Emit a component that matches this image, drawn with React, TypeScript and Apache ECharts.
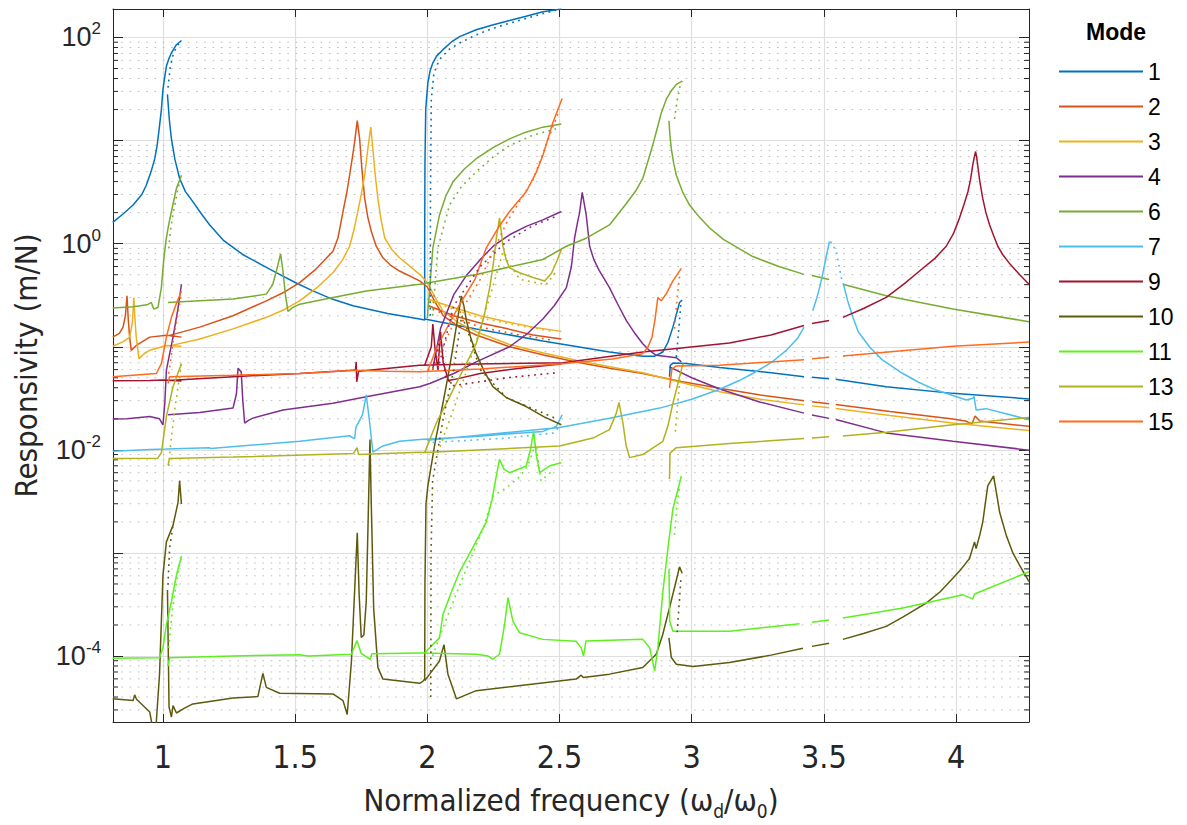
import React, { useEffect, useRef } from "react";
import * as echarts from "echarts";

type Seg = number[][];

// ---- axes ----
const X_MIN = 0.811;
const X_MAX = 4.276;
const Y_MIN = 2.29e-5;
const Y_MAX = 189;
const xTickLabels = [1, 1.5, 2, 2.5, 3, 3.5, 4];
const yLabelExponents = [2, 0, -2, -4];

// ---- legend ----
const modeNames = ["1", "2", "3", "4", "6", "7", "9", "10", "11", "13", "15"];
const modeColors = ["#0072BD", "#D95319", "#EDB120", "#7E2F8E", "#77AC30", "#4DBEEE", "#A2142F", "#5E5A0C", "#5CF01E", "#B2B21E", "#FF6A1F"];

// ---- mode 1 ----
const mode1Solid: Seg[] = [
  [[0.81, 1.61], [0.85, 1.95], [0.887, 2.37], [0.92, 3.0], [0.937, 3.69], [0.955, 5.0], [0.969, 6.67], [0.978, 9.0], [0.987, 13.9], [0.994, 20], [1.0, 31.4], [1.007, 42], [1.013, 52.6], [1.022, 62], [1.032, 70.8], [1.051, 85.1], [1.07, 93.5]],
  [[1.017, 28.1], [1.024, 16], [1.032, 10.4], [1.045, 6.6], [1.063, 4.29], [1.085, 3.2], [1.113, 2.56], [1.145, 1.95], [1.177, 1.52], [1.23, 1.07], [1.3, 0.79], [1.37, 0.63], [1.441, 0.504], [1.5, 0.42], [1.567, 0.348], [1.64, 0.29], [1.719, 0.25], [1.85, 0.21], [1.971, 0.186], [1.99, 0.182], [1.99, 0.9], [1.991, 5.8], [1.994, 20.2], [2.002, 36.3], [2.01, 47], [2.021, 56.8], [2.035, 66], [2.059, 76.2], [2.09, 90], [2.122, 102], [2.185, 119], [2.25, 133], [2.311, 146], [2.37, 160], [2.437, 178], [2.507, 189]],
  [[1.99, 0.186], [2.185, 0.149], [2.437, 0.114], [2.689, 0.089], [2.815, 0.081], [2.86, 0.081], [2.891, 0.089], [2.91, 0.11], [2.929, 0.155], [2.945, 0.22], [2.954, 0.269], [2.964, 0.283]],
  [[2.916, 0.0512], [2.919, 0.066], [2.93, 0.0697], [2.98, 0.0687], [3.106, 0.0628], [3.3, 0.056], [3.425, 0.0512]],
  [[3.455, 0.0505], [3.52, 0.049]],
  [[3.545, 0.0485], [3.736, 0.041], [3.988, 0.0353], [4.276, 0.0312]],
];
const mode1Dotted: Seg[] = [
  [[1.019, 32.6], [1.028, 52.6], [1.04, 70.8], [1.057, 85.1], [1.07, 93.5]],
  [[2.011, 0.2], [2.012, 3], [2.015, 25.1], [2.025, 45], [2.046, 61.1], [2.08, 76], [2.122, 88.3], [2.185, 106], [2.248, 123], [2.374, 153], [2.487, 185]],
  [[2.942, 0.0796], [2.951, 0.145], [2.96, 0.282]],
];

// ---- mode 2 ----
const mode2Solid: Seg[] = [
  [[0.81, 0.124], [0.835, 0.135], [0.849, 0.155], [0.858, 0.2], [0.864, 0.312], [0.869, 0.18], [0.874, 0.124], [0.88, 0.0923], [0.899, 0.103], [0.95, 0.124], [1.013, 0.129], [1.07, 0.124]],
  [[1.025, 0.129], [1.139, 0.155], [1.265, 0.2], [1.391, 0.279], [1.46, 0.34], [1.517, 0.419], [1.58, 0.57], [1.643, 0.845], [1.662, 1.135], [1.681, 2.05], [1.695, 3.1], [1.706, 4.61], [1.717, 7.0], [1.725, 9.66], [1.735, 15.6], [1.744, 10.4], [1.752, 5.5], [1.763, 2.75], [1.775, 1.8], [1.788, 1.32], [1.807, 0.94], [1.832, 0.73], [1.86, 0.62], [1.895, 0.543], [1.971, 0.435], [2.0, 0.38], [2.03, 0.27], [2.06, 0.2], [2.12, 0.155], [2.185, 0.13], [2.311, 0.1], [2.44, 0.083], [2.563, 0.071], [2.69, 0.062], [2.815, 0.055], [2.96, 0.046], [3.106, 0.0395], [3.26, 0.034], [3.425, 0.0299]],
  [[3.455, 0.0293], [3.52, 0.028]],
  [[3.545, 0.0276], [3.75, 0.0235], [3.988, 0.0199], [4.04, 0.0189], [4.06, 0.0178], [4.072, 0.0213], [4.09, 0.019], [4.276, 0.0169]],
  [[2.005, 0.25], [2.1, 0.2], [2.2, 0.17], [2.3, 0.15], [2.4, 0.13], [2.507, 0.119]],
];
const mode2Dotted: Seg[] = [
  [[2.02, 0.23], [2.2, 0.155], [2.35, 0.13], [2.48, 0.115]],
];

// ---- mode 3 ----
const mode3Solid: Seg[] = [
  [[0.81, 0.101], [0.85, 0.112], [0.874, 0.124], [0.884, 0.17], [0.89, 0.3], [0.895, 0.17], [0.899, 0.124], [0.909, 0.0767], [0.93, 0.086], [0.95, 0.0923], [1.013, 0.103], [1.07, 0.101]],
  [[1.025, 0.102], [1.139, 0.119], [1.265, 0.149], [1.391, 0.193], [1.46, 0.23], [1.517, 0.279], [1.58, 0.37], [1.643, 0.522], [1.68, 0.7], [1.706, 0.944], [1.722, 1.35], [1.737, 2.05], [1.75, 3.0], [1.763, 4.61], [1.775, 8.3], [1.786, 13.5], [1.794, 8.3], [1.803, 4.6], [1.813, 2.75], [1.825, 1.7], [1.839, 1.135], [1.865, 0.88], [1.895, 0.73], [1.971, 0.504], [2.0, 0.42], [2.03, 0.3], [2.06, 0.22], [2.12, 0.17], [2.185, 0.14], [2.311, 0.105], [2.44, 0.087], [2.563, 0.074], [2.69, 0.064], [2.815, 0.056], [2.96, 0.045], [3.106, 0.0366], [3.26, 0.031], [3.425, 0.0273]],
  [[3.455, 0.0267], [3.52, 0.0256]],
  [[3.545, 0.0252], [3.75, 0.0215], [3.988, 0.0182], [4.276, 0.0154]],
  [[2.0, 0.29], [2.1, 0.24], [2.2, 0.2], [2.3, 0.175], [2.4, 0.155], [2.507, 0.141]],
];
const mode3Dotted: Seg[] = [
  [[2.02, 0.27], [2.2, 0.19], [2.35, 0.16], [2.48, 0.14]],
];

// ---- mode 4 ----
const mode4Solid: Seg[] = [
  [[0.81, 0.0199], [0.864, 0.02], [0.95, 0.0211], [0.987, 0.02], [1.0, 0.0175], [1.007, 0.0283], [1.013, 0.0593], [1.025, 0.085], [1.038, 0.124], [1.055, 0.22], [1.07, 0.404]],
  [[1.019, 0.0219], [1.139, 0.023], [1.265, 0.0254], [1.278, 0.035], [1.284, 0.0617], [1.296, 0.0571], [1.302, 0.03], [1.309, 0.0182], [1.322, 0.0192], [1.34, 0.0203], [1.454, 0.0244], [1.643, 0.0283], [1.769, 0.0328], [1.971, 0.041], [2.009, 0.044], [2.1, 0.055], [2.185, 0.0713], [2.311, 0.1], [2.38, 0.135], [2.437, 0.186], [2.48, 0.25], [2.526, 0.375], [2.545, 0.6], [2.557, 1.135], [2.568, 1.6], [2.576, 2.0], [2.586, 3.14], [2.594, 2.4], [2.601, 1.9], [2.614, 0.944], [2.63, 0.7], [2.65, 0.55], [2.689, 0.375], [2.72, 0.26], [2.753, 0.179], [2.785, 0.135], [2.815, 0.107], [2.84, 0.092], [2.866, 0.0826], [2.942, 0.0783], [2.961, 0.0713]],
  [[2.02, 0.06], [2.05, 0.15], [2.1, 0.32], [2.15, 0.5], [2.2, 0.7], [2.25, 0.95], [2.311, 1.22], [2.374, 1.47], [2.437, 1.7], [2.507, 2.05]],
  [[2.916, 0.0638], [3.0, 0.05], [3.106, 0.0389], [3.26, 0.029], [3.425, 0.0227]],
  [[3.455, 0.0218], [3.52, 0.0202]],
  [[3.545, 0.0197], [3.736, 0.0146], [3.988, 0.0121], [4.276, 0.00993]],
];
const mode4Dotted: Seg[] = [
  [[2.04, 0.06], [2.1, 0.25], [2.2, 0.6], [2.3, 1.05], [2.4, 1.5], [2.49, 1.85]],
];

// ---- mode 6 ----
const mode6Solid: Seg[] = [
  [[0.81, 0.237], [0.887, 0.244], [0.94, 0.255], [0.956, 0.269], [0.965, 0.232], [0.981, 0.24], [0.994, 0.375], [1.003, 0.7], [1.012, 1.1], [1.022, 1.55], [1.032, 2.05], [1.051, 3.44], [1.07, 4.61]],
  [[1.019, 0.269], [1.139, 0.279], [1.265, 0.29], [1.391, 0.324], [1.415, 0.4], [1.429, 0.543], [1.445, 0.796], [1.454, 0.543], [1.463, 0.32], [1.473, 0.22], [1.49, 0.24], [1.517, 0.259], [1.643, 0.301], [1.769, 0.348], [1.971, 0.404], [2.185, 0.503], [2.437, 0.702], [2.526, 0.944], [2.601, 1.13], [2.689, 1.52], [2.75, 2.4], [2.79, 3.3], [2.815, 4.29], [2.84, 7.0], [2.855, 9.5], [2.866, 12.1], [2.885, 18.5], [2.904, 25.2], [2.925, 31], [2.942, 35.1], [2.964, 37.8]],
  [[2.914, 15.6], [2.918, 11], [2.923, 8.3], [2.932, 6.0], [2.942, 4.61], [2.965, 3.2], [2.992, 2.37], [3.03, 1.8], [3.068, 1.42], [3.12, 1.1], [3.231, 0.75], [3.33, 0.6], [3.425, 0.504]],
  [[3.455, 0.49], [3.52, 0.45]],
  [[3.572, 0.404], [3.736, 0.312], [3.988, 0.232], [4.276, 0.175]],
  [[2.0, 0.19], [2.01, 0.4], [2.021, 0.912], [2.046, 1.9], [2.07, 2.9], [2.097, 3.98], [2.14, 5.3], [2.185, 6.67], [2.25, 8.6], [2.311, 10.4], [2.37, 12], [2.437, 13.5], [2.507, 14.5]],
];
const mode6Dotted: Seg[] = [
  [[1.022, 0.9], [1.028, 1.32], [1.04, 2.05], [1.057, 3.44], [1.07, 4.61]],
  [[2.02, 0.2], [2.04, 0.912], [2.084, 2.37], [2.13, 3.6], [2.185, 4.97], [2.25, 7.0], [2.311, 8.96], [2.4, 11.3], [2.487, 13]],
  [[2.935, 16.2], [2.946, 25.2], [2.955, 33], [2.964, 37.8]],
];

// ---- mode 7 ----
const mode7Solid: Seg[] = [
  [[0.81, 0.0097], [0.95, 0.0101], [1.013, 0.0102], [1.176, 0.0105], [1.18, 0.0103], [1.517, 0.0121], [1.706, 0.0137], [1.725, 0.0128], [1.73, 0.0165], [1.755, 0.022], [1.769, 0.0341], [1.782, 0.0182], [1.794, 0.0095], [1.832, 0.0109], [1.895, 0.0121], [1.971, 0.0126], [2.185, 0.0135], [2.437, 0.0151], [2.488, 0.0169], [2.51, 0.0219]],
  [[2.0, 0.0124], [2.5, 0.0165], [2.689, 0.0203], [2.879, 0.0254], [3.0, 0.031], [3.106, 0.0387], [3.18, 0.047], [3.231, 0.055], [3.3, 0.07], [3.358, 0.0923], [3.4, 0.12], [3.425, 0.155]],
  [[3.458, 0.224], [3.472, 0.29], [3.484, 0.375], [3.495, 0.5], [3.503, 0.628], [3.512, 0.82], [3.521, 1.05]],
  [[3.574, 0.404], [3.59, 0.28], [3.61, 0.193], [3.63, 0.14], [3.673, 0.0993], [3.72, 0.075], [3.799, 0.055], [3.86, 0.045], [3.925, 0.038], [4.039, 0.0305], [4.063, 0.0316], [4.068, 0.033], [4.076, 0.0244], [4.114, 0.0251], [4.276, 0.0196]],
];
const mode7Dotted: Seg[] = [
  [[3.525, 1.05], [3.547, 0.845], [3.566, 0.468], [3.574, 0.404]],
  [[2.02, 0.0118], [2.3, 0.013], [2.48, 0.0146], [2.5, 0.017]],
];

// ---- mode 9 ----
const mode9Solid: Seg[] = [
  [[0.81, 0.0468], [0.95, 0.047], [1.0, 0.0475], [1.07, 0.0465]],
  [[1.019, 0.047], [1.265, 0.0512], [1.517, 0.055], [1.719, 0.0593], [1.728, 0.0593], [1.731, 0.0713], [1.733, 0.0457], [1.74, 0.058], [1.971, 0.066], [2.185, 0.068], [2.513, 0.07], [2.815, 0.0889], [3.143, 0.109], [3.3, 0.13], [3.425, 0.161]],
  [[3.455, 0.168], [3.52, 0.18]],
  [[3.572, 0.193], [3.65, 0.235], [3.736, 0.301], [3.8, 0.4], [3.862, 0.543], [3.92, 0.72], [3.963, 0.944], [3.99, 1.25], [4.013, 1.77], [4.03, 2.4], [4.045, 3.19], [4.055, 4.2], [4.063, 5.75], [4.069, 6.9], [4.074, 7.83], [4.078, 6.9], [4.082, 5.75], [4.09, 4.0], [4.101, 2.75], [4.113, 2.0], [4.127, 1.52], [4.142, 1.2], [4.158, 0.944], [4.177, 0.78], [4.205, 0.63], [4.24, 0.503], [4.276, 0.404]],
  [[1.99, 0.066], [2.015, 0.1], [2.021, 0.166], [2.03, 0.09], [2.04, 0.06], [2.05, 0.14], [2.06, 0.07], [2.08, 0.047], [2.1, 0.048], [2.2, 0.055], [2.35, 0.062], [2.507, 0.068]],
];
const mode9Dotted: Seg[] = [
  [[2.02, 0.06], [2.05, 0.12], [2.07, 0.05], [2.1, 0.042], [2.3, 0.05], [2.49, 0.056]],
];

// ---- mode 10 ----
const mode10Solid: Seg[] = [
  [[0.81, 3.84e-5], [0.887, 3.7e-5], [0.893, 4.2e-5], [0.9, 3.8e-5], [0.95, 2.86e-5], [0.97, 1.5e-5], [0.987, 6.67e-5], [1.0, 6.1e-4], [1.013, 1.28e-3], [1.038, 1.85e-3], [1.057, 3.09e-3], [1.063, 5.0e-3], [1.07, 2.98e-3]],
  [[1.017, 4.37e-4], [1.023, 3.2e-5], [1.032, 2.56e-5], [1.038, 3.3e-5], [1.051, 2.8e-5], [1.08, 3.1e-5], [1.113, 3.43e-5], [1.265, 3.92e-5], [1.359, 4.04e-5], [1.378, 6.78e-5], [1.391, 4.97e-5], [1.441, 4.35e-5], [1.643, 4.29e-5], [1.681, 3.69e-5], [1.697, 2.71e-5], [1.713, 8.95e-5], [1.735, 1.57e-3], [1.742, 4e-4], [1.75, 1.51e-4], [1.76, 1.6e-4], [1.769, 3.38e-4], [1.776, 2e-3], [1.783, 0.0126], [1.788, 3e-3], [1.797, 2.9e-4], [1.813, 7.76e-5], [1.832, 5.97e-5], [1.971, 5.43e-5], [1.983, 5.68e-5], [1.99, 6e-5], [1.991, 5e-4], [1.995, 3e-3], [2.002, 4.47e-3], [2.03, 0.012], [2.059, 0.0283], [2.08, 0.055], [2.097, 0.0993], [2.115, 0.19], [2.129, 0.312], [2.138, 0.25], [2.148, 0.179], [2.165, 0.12], [2.185, 0.0857], [2.215, 0.058], [2.248, 0.041], [2.3, 0.032], [2.374, 0.0263], [2.44, 0.021], [2.507, 0.0175]],
  [[1.99, 5.75e-5], [2.009, 6.67e-5], [2.046, 8.95e-5], [2.063, 1.29e-4], [2.078, 6.67e-5], [2.11, 3.84e-5], [2.185, 4.61e-5], [2.563, 5.97e-5], [2.582, 6.52e-5], [2.59, 6.2e-5], [2.689, 6.67e-5], [2.815, 7.73e-5], [2.866, 1.04e-4], [2.89, 1.6e-4], [2.916, 2.92e-4], [2.94, 5.2e-4], [2.954, 7.33e-4], [2.964, 6.34e-4]],
  [[2.914, 1.5e-4], [2.923, 9.66e-5], [2.942, 8.32e-5], [3.005, 7.9e-5], [3.143, 8.65e-5], [3.3, 1.02e-4], [3.421, 1.19e-4]],
  [[3.455, 1.24e-4], [3.52, 1.33e-4]],
  [[3.572, 1.45e-4], [3.65, 1.65e-4], [3.736, 1.94e-4], [3.8, 2.4e-4], [3.887, 3.26e-4], [3.94, 4.2e-4], [3.988, 5.68e-4], [4.02, 7e-4], [4.051, 8.83e-4], [4.07, 1.28e-3], [4.076, 1.1e-3], [4.09, 1.5e-3], [4.101, 1.99e-3], [4.12, 4.48e-3], [4.142, 5.58e-3], [4.153, 3.8e-3], [4.165, 2.48e-3], [4.19, 1.48e-3], [4.215, 1.0e-3], [4.24, 7.62e-4], [4.276, 5.26e-4]],
];
const mode10Dotted: Seg[] = [
  [[1.019, 4.9e-4], [1.025, 1.1e-3], [1.038, 1.85e-3]],
  [[2.013, 4e-5], [2.014, 1e-3], [2.02, 5e-3], [2.06, 0.02], [2.1, 0.06], [2.13, 0.2], [2.15, 0.15], [2.2, 0.06], [2.3, 0.032], [2.49, 0.02]],
  [[2.945, 1.7e-4], [2.952, 3e-4], [2.96, 6e-4]],
];

// ---- mode 11 ----
const mode11Solid: Seg[] = [
  [[0.81, 9.5e-5], [0.987, 9.6e-5], [1.0, 1.2e-4], [1.013, 2.02e-4], [1.032, 3.38e-4], [1.051, 6.1e-4], [1.07, 9.3e-4]],
  [[1.019, 8.0e-5], [1.025, 9.6e-5], [1.265, 1.0e-4], [1.517, 1.03e-4], [1.55, 1.0e-4], [1.713, 1.04e-4], [1.734, 1.41e-4], [1.75, 1.06e-4], [1.784, 9.3e-5], [1.79, 1.05e-4], [1.971, 1.07e-4], [1.99, 1.07e-4], [2.009, 1.2e-4], [2.046, 1.5e-4], [2.059, 2.52e-4], [2.09, 4.1e-4], [2.122, 6.56e-4], [2.17, 1.1e-3], [2.223, 1.99e-3], [2.245, 3.3e-3], [2.261, 5.58e-3], [2.273, 8.1e-3], [2.29, 6.5e-3], [2.311, 6.0e-3], [2.374, 6.97e-3], [2.39, 0.01], [2.402, 0.0151], [2.412, 0.009], [2.425, 6.0e-3], [2.463, 7.0e-3], [2.507, 7.5e-3]],
  [[1.99, 1.07e-4], [2.185, 1.04e-4], [2.23, 1.0e-4], [2.248, 9.3e-5], [2.273, 1.04e-4], [2.292, 2.0e-4], [2.305, 3.69e-4], [2.324, 2.17e-4], [2.349, 1.68e-4], [2.437, 1.45e-4], [2.563, 1.39e-4], [2.582, 1.2e-4], [2.591, 1.0e-4], [2.6, 1.4e-4], [2.815, 1.45e-4], [2.841, 1.2e-4], [2.86, 7.18e-5], [2.872, 1.2e-4], [2.891, 4.2e-4], [2.91, 1.1e-3], [2.929, 2.67e-3], [2.961, 5.58e-3]],
  [[2.914, 7e-4], [2.917, 2.17e-4], [2.929, 1.74e-4], [3.143, 1.74e-4], [3.408, 2.06e-4]],
  [[3.455, 2.13e-4], [3.52, 2.24e-4]],
  [[3.572, 2.34e-4], [3.799, 2.92e-4], [4.026, 3.92e-4], [4.063, 3.58e-4], [4.07, 4.0e-4], [4.276, 6.56e-4]],
];
const mode11Dotted: Seg[] = [
  [[1.022, 1.2e-4], [1.03, 2e-4], [1.04, 3.4e-4], [1.055, 6e-4], [1.07, 9.3e-4]],
  [[2.02, 1e-4], [2.06, 1.9e-4], [2.12, 4.7e-4], [2.21, 1.7e-3], [2.25, 3.6e-3], [2.3, 4.3e-3], [2.35, 5.5e-3], [2.38, 7e-3], [2.41, 1.15e-2], [2.43, 5e-3], [2.48, 6.5e-3]],
  [[2.935, 1.5e-3], [2.945, 3e-3], [2.955, 4.5e-3]],
];

// ---- mode 13 ----
const mode13Solid: Seg[] = [
  [[0.81, 8.26e-3], [0.98, 8.3e-3], [0.994, 9.36e-3], [1.013, 0.0211], [1.038, 0.041], [1.07, 0.0687]],
  [[1.019, 7.08e-3], [1.025, 8.26e-3], [1.265, 8.5e-3], [1.72, 9.2e-3], [1.734, 0.0105], [1.74, 9.0e-3], [1.971, 9.5e-3], [1.99, 9.4e-3], [2.034, 0.0182], [2.08, 0.031], [2.122, 0.0512], [2.155, 0.075], [2.185, 0.107], [2.215, 0.2], [2.236, 0.375], [2.25, 0.65], [2.261, 1.13], [2.273, 1.77], [2.28, 1.3], [2.286, 0.94], [2.298, 0.7], [2.311, 0.583], [2.349, 0.522], [2.4, 0.47], [2.444, 0.435], [2.47, 0.52], [2.49, 0.68], [2.507, 0.875]],
  [[1.99, 9.4e-3], [2.5, 0.0109], [2.626, 0.013], [2.689, 0.0157], [2.715, 0.0227], [2.725, 0.0288], [2.74, 0.0182], [2.752, 0.011], [2.765, 8.4e-3], [2.815, 9.0e-3], [2.891, 0.0121], [2.91, 0.017], [2.929, 0.0283], [2.967, 0.0687]],
  [[2.916, 5.2e-3], [2.918, 9.3e-3], [2.942, 0.0105], [3.143, 0.0115], [3.425, 0.0129]],
  [[3.455, 0.013], [3.52, 0.0134]],
  [[3.572, 0.0136], [3.736, 0.0148], [3.988, 0.0175], [4.276, 0.0206]],
];
const mode13Dotted: Seg[] = [
  [[1.022, 7e-3], [1.03, 0.012], [1.045, 0.025], [1.07, 0.0687]],
  [[2.04, 9.4e-3], [2.1, 0.025], [2.15, 0.06], [2.2, 0.15], [2.25, 0.4], [2.29, 0.9], [2.3, 0.7], [2.35, 0.45], [2.45, 0.4], [2.49, 0.55]],
  [[2.938, 0.015], [2.948, 0.03], [2.96, 0.06]],
];

// ---- mode 15 ----
const mode15Solid: Seg[] = [
  [[0.81, 0.0512], [0.975, 0.055], [0.994, 0.0687], [1.013, 0.124], [1.032, 0.193], [1.05, 0.26], [1.07, 0.348]],
  [[1.019, 0.044], [1.025, 0.0512], [1.265, 0.053], [1.517, 0.055], [1.731, 0.0593], [1.85, 0.058], [1.971, 0.0571], [2.2, 0.061], [2.5, 0.068], [2.7, 0.076], [2.815, 0.0857], [2.835, 0.1], [2.85, 0.124], [2.862, 0.19], [2.872, 0.301], [2.885, 0.279], [2.905, 0.33], [2.929, 0.435], [2.961, 0.575]],
  [[2.0, 0.057], [2.03, 0.09], [2.06, 0.13], [2.12, 0.25], [2.18, 0.45], [2.223, 0.912], [2.27, 1.45], [2.311, 2.05], [2.374, 3.19], [2.41, 4.8], [2.437, 7.18], [2.475, 15], [2.51, 25.6]],
  [[2.916, 0.04], [2.925, 0.06], [2.94, 0.065], [3.106, 0.066], [3.425, 0.075]],
  [[3.455, 0.0765], [3.52, 0.079]],
  [[3.572, 0.0813], [3.988, 0.101], [4.276, 0.111]],
];
const mode15Dotted: Seg[] = [
  [[1.022, 0.055], [1.04, 0.12], [1.07, 0.33]],
  [[2.02, 0.06], [2.1, 0.17], [2.2, 0.45], [2.3, 1.6], [2.4, 4.2], [2.5, 20]],
  [[2.935, 0.15], [2.945, 0.3], [2.955, 0.5]],
];

const solidByMode: Seg[][] = [mode1Solid, mode2Solid, mode3Solid, mode4Solid, mode6Solid, mode7Solid, mode9Solid, mode10Solid, mode11Solid, mode13Solid, mode15Solid];
const dottedByMode: Seg[][] = [mode1Dotted, mode2Dotted, mode3Dotted, mode4Dotted, mode6Dotted, mode7Dotted, mode9Dotted, mode10Dotted, mode11Dotted, mode13Dotted, mode15Dotted];

const NARROW = "'Liberation Sans Narrow', 'Arial Narrow', 'DejaVu Sans Condensed', 'Roboto Condensed', sans-serif";
const SANS = "'Liberation Sans', Arial, Helvetica, sans-serif";
const FRAME = "#262626";

function joinSegments(segs: Seg[]): (number | null)[][] {
  const out: (number | null)[][] = [];
  segs.forEach((s, i) => {
    if (i > 0) out.push([s[0][0], null]);
    s.forEach((p) => out.push(p));
  });
  return out;
}

function minorValues(): number[][] {
  const vals: number[][] = [];
  for (let k = -5; k <= 2; k++) {
    for (let m = 2; m <= 9; m++) {
      const v = m * Math.pow(10, k);
      if (v > Y_MIN && v < Y_MAX) vals.push([X_MIN, v]);
    }
  }
  return vals;
}

export default function App() {
  const ref = useRef<HTMLDivElement>(null);
  useEffect(() => {
    document.body.style.margin = "0";
    if (!ref.current) return;
    const chart = echarts.init(ref.current, null, { renderer: "svg" });

    const series: any[] = [];
    series.push({
      type: "custom",
      name: "minor-grid",
      silent: true,
      z: 1,
      data: minorValues(),
      encode: { x: 0, y: 1 },
      renderItem: (params: any, api: any) => {
        const cs = params.coordSys;
        const y = api.coord([api.value(0), api.value(1)])[1];
        return {
          type: "group",
          children: [
            { type: "line", shape: { x1: cs.x, y1: y, x2: cs.x + cs.width, y2: y }, style: { stroke: "#bdbdbd", lineWidth: 1, lineDash: [1.6, 6.7] } },
            { type: "line", shape: { x1: cs.x, y1: y, x2: cs.x + 5, y2: y }, style: { stroke: FRAME, lineWidth: 1 } },
            { type: "line", shape: { x1: cs.x + cs.width - 5, y1: y, x2: cs.x + cs.width, y2: y }, style: { stroke: FRAME, lineWidth: 1 } },
          ],
        };
      },
    });

    modeNames.forEach((name, i) => {
      const color = modeColors[i];
      series.push({
        name,
        type: "line",
        data: joinSegments(solidByMode[i]),
        showSymbol: false,
        symbol: "none",
        connectNulls: false,
        lineStyle: { color, width: 1.5 },
        itemStyle: { color },
        emphasis: { disabled: true },
        z: 3,
      });
    });
    modeNames.forEach((name, i) => {
      const color = modeColors[i];
      series.push({
        name,
        type: "line",
        data: joinSegments(dottedByMode[i]),
        showSymbol: false,
        symbol: "none",
        connectNulls: false,
        lineStyle: { color, width: 1.6, type: [1.8, 4.5] },
        itemStyle: { color },
        emphasis: { disabled: true },
        z: 3,
      });
    });

    const xLabelFmt = (v: number) => (xTickLabels.some((t) => Math.abs(t - v) < 1e-6) ? String(v) : "");
    const yLabelFmt = (v: number) => {
      const e = Math.log10(v);
      const r = Math.round(e);
      if (Math.abs(e - r) > 1e-6) return "";
      if (!yLabelExponents.includes(r)) return "";
      return `{b|10}{s|${r}}`;
    };

    chart.setOption({
      animation: false,
      backgroundColor: "#ffffff",
      grid: { left: 113, top: 9, width: 916, height: 719, containLabel: false },
      legend: {
        data: modeNames,
        orient: "vertical",
        left: 1059,
        top: 54,
        padding: 0,
        itemGap: 0,
        itemWidth: 84,
        itemHeight: 2,
        icon: "rect",
        selectedMode: false,
        textStyle: { fontSize: 23, fontFamily: SANS, color: "#000", lineHeight: 35 },
      },
      graphic: [
        {
          type: "text",
          left: 1086,
          top: 20,
          style: { text: "Mode", fontSize: 23, fontWeight: "bold", fontFamily: SANS, fill: "#000" },
        },
      ],
      xAxis: [
        {
          type: "value",
          min: X_MIN,
          max: X_MAX,
          position: "bottom",
          axisLine: { show: true, onZero: false, lineStyle: { color: FRAME, width: 1 } },
          axisTick: { show: true, inside: true, length: 8, lineStyle: { color: FRAME, width: 1 } },
          axisLabel: { formatter: xLabelFmt, fontSize: 32, fontFamily: NARROW, color: FRAME, margin: 19 },
          splitLine: { show: true, lineStyle: { color: "#dedede", width: 1.2 } },
          name: "{t|Normalized frequency (ω}{s|d}{t|/ω}{s|0}{t|)}",
          nameLocation: "middle",
          nameGap: 58,
          nameTextStyle: {
            rich: {
              t: { fontSize: 31, fontFamily: NARROW, color: FRAME, lineHeight: 40 },
              s: { fontSize: 19, fontFamily: NARROW, color: FRAME, lineHeight: 20, verticalAlign: "bottom" },
            },
          },
        },
        {
          type: "value",
          min: X_MIN,
          max: X_MAX,
          position: "top",
          axisLine: { show: true, onZero: false, lineStyle: { color: FRAME, width: 1 } },
          axisTick: { show: true, inside: true, length: 8, lineStyle: { color: FRAME, width: 1 } },
          axisLabel: { show: false },
          splitLine: { show: false },
        },
      ],
      yAxis: [
        {
          type: "log",
          logBase: 10,
          min: Y_MIN,
          max: Y_MAX,
          position: "left",
          axisLine: { show: true, onZero: false, lineStyle: { color: FRAME, width: 1 } },
          axisTick: { show: true, inside: true, length: 10, lineStyle: { color: FRAME, width: 1 } },
          axisLabel: {
            formatter: yLabelFmt,
            margin: 12,
            rich: {
              b: { fontSize: 27, fontFamily: SANS, color: FRAME, lineHeight: 34, verticalAlign: "middle" },
              s: { fontSize: 17, fontFamily: SANS, color: FRAME, lineHeight: 17, verticalAlign: "top" },
            },
          },
          splitLine: { show: true, lineStyle: { color: "#dedede", width: 1.2 } },
          name: "Responsivity (m/N)",
          nameLocation: "middle",
          nameGap: 72,
          nameRotate: 90,
          nameTextStyle: { fontSize: 31, fontFamily: NARROW, color: FRAME },
        },
        {
          type: "log",
          logBase: 10,
          min: Y_MIN,
          max: Y_MAX,
          position: "right",
          axisLine: { show: true, onZero: false, lineStyle: { color: FRAME, width: 1 } },
          axisTick: { show: true, inside: true, length: 10, lineStyle: { color: FRAME, width: 1 } },
          axisLabel: { show: false },
          splitLine: { show: false },
        },
      ],
      series,
    });
    return () => chart.dispose();
  }, []);
  return <div ref={ref} style={{ width: 1187, height: 825 }} />;
}
